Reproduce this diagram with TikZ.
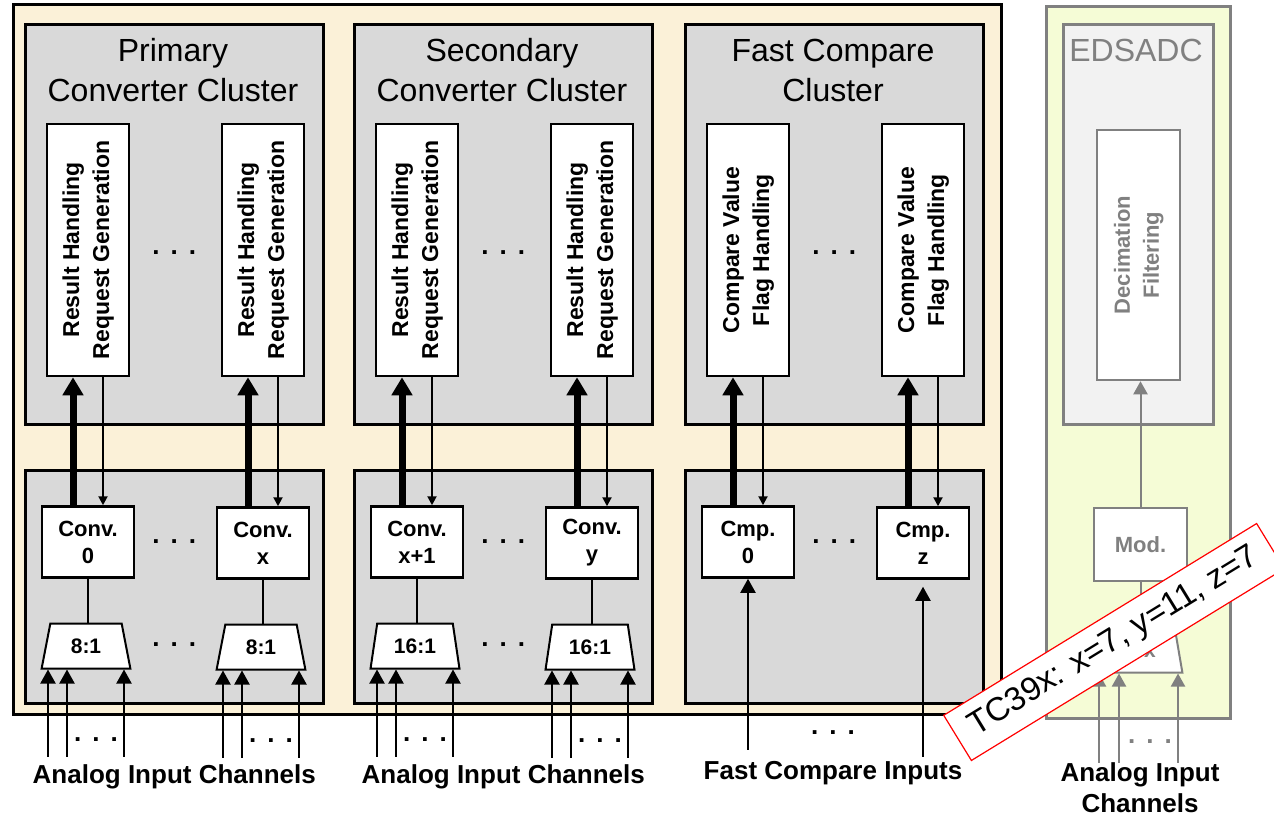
\documentclass[tikz,border=0pt]{standalone}
\usepackage{graphicx}
\usepackage{fontspec}
\setmainfont{Liberation Sans}
\usetikzlibrary{shapes.geometric, arrows.meta, positioning, calc}
\definecolor{panelbg}{HTML}{FBF1D8}
\definecolor{clusterbg}{HTML}{D9D9D9}
\definecolor{sdbg}{HTML}{F5FCD6}
\definecolor{sdbox}{HTML}{F2F2F2}
\definecolor{sdgray}{HTML}{808080}
\newcommand{\threedots}{.\hspace{11pt}.\hspace{11pt}.}
\newcommand{\vtext}[1]{\rotatebox{90}{\begin{tabular}{@{}c@{}}#1\end{tabular}}}
\tikzset{
    panel/.style={draw=black, line width=2.5pt, fill=panelbg, anchor=north west, inner sep=0pt},
    cluster/.style={draw=black, line width=2.5pt, fill=clusterbg, anchor=north west, minimum width=298pt, inner sep=0pt},
    clustertitle/.style={align=center, font=\fontsize{32}{40}\selectfont},
    resbox/.style={draw=black, line width=2.5pt, fill=white, minimum width=82pt, minimum height=252pt, inner sep=0pt, font=\bfseries\fontsize{23}{30}\selectfont},
    convbox/.style={draw=black, line width=2.5pt, fill=white, minimum width=92pt, minimum height=71pt, inner sep=0pt, align=center, font=\bfseries\fontsize{22}{27}\selectfont},
    muxbox/.style={trapezium, trapezium stretches=true, trapezium left angle=76, trapezium right angle=76, draw=black, line width=2pt, fill=white, minimum width=89pt, minimum height=45pt, inner sep=0pt, font=\bfseries\fontsize{21}{25}\selectfont},
    dotrow/.style={font=\bfseries\fontsize{26}{26}\selectfont, inner sep=0pt},
    inlabel/.style={align=center, font=\bfseries\fontsize{26}{31}\selectfont},
    busarrow/.style={-{Triangle[width=20pt,length=18pt]}, line width=7pt},
    reqarrow/.style={-{Triangle[width=9pt,length=9pt]}, line width=2pt},
    inarrow/.style={-{Triangle[width=15pt,length=14pt]}, line width=2pt},
    wire/.style={line width=2pt},
    % EDSADC part, greyed out
    sdpanel/.style={draw=sdgray, line width=2.5pt, fill=sdbg, anchor=north west, inner sep=0pt},
    sdcluster/.style={draw=sdgray, line width=2.5pt, fill=sdbox, anchor=north west, inner sep=0pt},
    sdbox/.style={draw=sdgray, line width=2.5pt, fill=white, inner sep=0pt, align=center, text=sdgray, font=\bfseries\fontsize{22}{29}\selectfont},
    sdarrow/.style={-{Triangle[width=14pt,length=13pt]}, line width=2pt, sdgray},
    note/.style={draw=red, line width=1.2pt, fill=white, rotate=31.5, minimum width=367pt, minimum height=53pt, font=\fontsize{33}{33}\selectfont}
}

\begin{document}
\begin{tikzpicture}[x=1pt, y=-1pt]
    \useasboundingbox (0,0) rectangle (1274,819);
    \node [panel, minimum width=988pt, minimum height=710pt] (evadc) at (12,3) {};

    % primary converter cluster
    \node [cluster, minimum height=400pt] (ptop) at (24,23) {};
    \node [cluster, minimum height=233pt] (pbot) at (24,469) {};
    \node [clustertitle] (ptitle) at (173,70) {Primary\\Converter Cluster};
    \node [resbox] (pres1) at (88,250) {\vtext{Result Handling\\Request Generation}};
    \node [resbox] (pres2) at (263,250) {\vtext{Result Handling\\Request Generation}};
    \node [convbox] (pconv1) at (88,542) {Conv.\\0};
    \node [convbox] (pconv2) at (263,543) {Conv.\\x};
    \node [muxbox] (pmux1) at (86,646) {8:1};
    \node [muxbox] (pmux2) at (261,647) {8:1};

    % secondary converter cluster
    \node [cluster, minimum height=400pt] (stop) at (353,23) {};
    \node [cluster, minimum height=233pt] (sbot) at (353,469) {};
    \node [clustertitle] (stitle) at (502,70) {Secondary\\Converter Cluster};
    \node [resbox] (sres1) at (417,250) {\vtext{Result Handling\\Request Generation}};
    \node [resbox] (sres2) at (592,250) {\vtext{Result Handling\\Request Generation}};
    \node [convbox] (sconv1) at (417,542) {Conv.\\x+1};
    \node [convbox] (sconv2) at (592,543) {Conv.\\y};
    \node [muxbox] (smux1) at (415,646) {16:1};
    \node [muxbox] (smux2) at (590,647) {16:1};

    % fast compare cluster
    \node [cluster, minimum height=400pt] (ftop) at (684,23) {};
    \node [cluster, minimum height=233pt] (fbot) at (684,469) {};
    \node [clustertitle] (ftitle) at (833,70) {Fast Compare\\Cluster};
    \node [resbox] (fres1) at (748,250) {\vtext{Compare Value\\Flag Handling}};
    \node [resbox] (fres2) at (923,250) {\vtext{Compare Value\\Flag Handling}};
    \node [convbox] (fconv1) at (748,542) {Cmp.\\0};
    \node [convbox] (fconv2) at (923,543) {Cmp.\\z};

    \foreach \n in {p,s,f} {
        \node [dotrow] (\n dotsa) at ($(\n top.north)+(0,230)$) {\threedots};
        \node [dotrow] (\n dotsb) at ($(\n bot.north)+(0,73)$) {\threedots};
        \foreach \k in {1,2} {
            \draw [busarrow] ([xshift=-15pt]\n conv\k.north) -- ([xshift=-15pt]\n res\k.south);
            \draw [reqarrow] ([xshift=15pt]\n res\k.south) -- ([xshift=15pt]\n conv\k.north);
        }
    }

    % multiplexer inputs
    \foreach \n in {p,s} {
        \node [dotrow] (\n dotsc) at ($(\n bot.north)+(0,176)$) {\threedots};
        \node [inlabel] (\n label) at ($(\n bot.north)+(0,308)$) {Analog Input Channels};
        \foreach \k in {1,2} {
            \draw [wire] (\n conv\k.south) -- (\n conv\k.south |- \n mux\k.north);
            \foreach \dx in {-38,-19,38}
                \draw [inarrow] ($(\n mux\k.south)+(\dx,87)$) -- ([xshift=\dx pt]\n mux\k.south);
            \node [dotrow] (\n dotsin\k) at ($(\n mux\k.south)+(10,70)$) {\threedots};
        }
    }

    % fast compare inputs
    \draw [inarrow] ($(fconv1.south)+(0,171)$) -- (fconv1.south);
    \draw [inarrow, shorten >=7pt] ($(fconv2.south)+(0,177)$) -- (fconv2.south);
    \node [dotrow] (fdotsin) at (833,733) {\threedots};
    \node [inlabel] (flabel) at (833,773) {Fast Compare Inputs};

    % EDSADC
    \node [sdpanel, minimum width=184pt, minimum height=712pt] (sd) at (1045,5) {};
    \node [sdcluster, minimum width=150pt, minimum height=400pt] (sdtop) at (1062,23) {};
    \node [text=sdgray, font=\fontsize{32}{40}\selectfont] (sdtitle) at (1136,50) {EDSADC};
    \node [sdbox, minimum width=83pt, minimum height=250pt] (dec) at (1138.5,255) {\vtext{Decimation\\Filtering}};
    \node [sdbox, minimum width=93pt, minimum height=73pt] (mod) at (1140.5,544.5) {Mod.};
    \node [muxbox, draw=sdgray, text=sdgray] (sdmux) at (1138,650) {\hspace*{12pt}3x};
    \draw [sdarrow] (mod.north) -- (mod.north |- dec.south);
    \draw [wire, sdgray] (mod.south) -- (mod.south |- sdmux.north);
    \foreach \dx in {-39,-19,40}
        \draw [sdarrow] ($(sdmux.south)+(\dx,89)$) -- ([xshift=\dx pt]sdmux.south);
    \node [dotrow, text=sdgray] (sddotsin) at (1150,742) {\threedots};
    \node [inlabel] (sdlabel) at (1140,788) {Analog Input\\Channels};

    \node [note] (variant) at (1114,642) {TC39x: x=7, y=11, z=7};
\end{tikzpicture}
\end{document}
